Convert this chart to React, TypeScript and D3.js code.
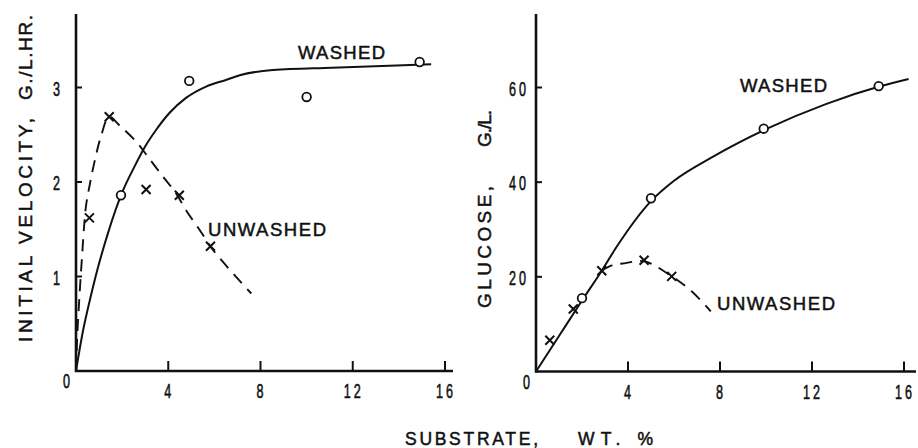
import React from "react";
import * as d3 from "d3";

// ---------- data ----------
const xTicks = [4, 8, 12, 16];
const velTicks = [1, 2, 3];
const gluTicks = [20, 40, 60];

// Left panel: initial velocity (G./L.HR.)
const velWashedX = [1.95, 4.91, 10, 14.9];
const velWashedY = [1.86, 3.07, 2.9, 3.27];
const velUnwashedX = [0.58, 1.44, 3.04, 4.48, 5.83];
const velUnwashedY = [1.62, 2.69, 1.92, 1.86, 1.32];
const velWashedCurveX = [0, 0.3, 0.61, 0.85, 1.4, 2.02, 2.53, 2.96, 3.47, 4.05, 4.77, 5.64, 6.5, 7.1, 8.54, 11.1, 15.4];
const velWashedCurveY = [0, 0.42, 0.76, 1.0, 1.47, 1.9, 2.16, 2.36, 2.55, 2.73, 2.89, 3.01, 3.08, 3.13, 3.185, 3.21, 3.245];
const velUnwashedCurveX = [0, 0.06, 0.14, 0.25, 0.43, 0.58, 0.79, 1.08, 1.44, 1.88, 2.6, 3.11, 3.76, 4.34, 4.77, 5.37, 5.94, 7.6];
const velUnwashedCurveY = [0, 0.4, 0.75, 1.17, 1.74, 1.95, 2.2, 2.48, 2.69, 2.6, 2.43, 2.27, 2.06, 1.88, 1.7, 1.49, 1.28, 0.82];

// Right panel: glucose (G./L.)
const gluWashedX = [2, 5, 9.9, 14.9];
const gluWashedY = [15.5, 36.6, 51.3, 60.3];
const gluUnwashedX = [0.6, 1.62, 2.86, 4.7, 5.9];
const gluUnwashedY = [6.6, 13.2, 21.3, 23.5, 20.1];
const gluWashedCurveX = [0, 1, 2, 2.86, 3.5, 5, 6, 7.7, 10, 12.6, 15, 16.2];
const gluWashedCurveY = [0, 7.5, 15, 21.3, 26.3, 36, 40.3, 45.4, 51.2, 56.5, 60.3, 61.8];
const gluUnwashedCurveX = [2.86, 3.3, 3.9, 4.7, 5.9, 6.8, 7.6];
const gluUnwashedCurveY = [21.3, 22.4, 22.9, 23.3, 20.1, 16.8, 12.7];

const FONT = "'Liberation Sans', Arial, sans-serif";
const INK = "#111";

type PanelProps = {
  x0: number;
  x1: number;
  y0: number;
  yTopTick: number;
  yMaxTick: number;
  axisTopY: number;
  axisRight: number;
  yTicks: number[];
  yLabelRight: number;
  washedX: number[];
  washedY: number[];
  unX: number[];
  unY: number[];
  wCurveX: number[];
  wCurveY: number[];
  uCurveX: number[];
  uCurveY: number[];
};

function pairs(xs: number[], ys: number[]): [number, number][] {
  return xs.map((x, i) => [x, ys[i]] as [number, number]);
}

function Panel(p: PanelProps) {
  const x = d3.scaleLinear().domain([0, 16]).range([p.x0, p.x1]);
  const y = d3.scaleLinear().domain([0, p.yMaxTick]).range([p.y0, p.yTopTick]);
  const wLine = d3
    .line<[number, number]>()
    .x((d) => x(d[0]))
    .y((d) => y(d[1]))
    .curve(d3.curveMonotoneX);
  const uLine = d3
    .line<[number, number]>()
    .x((d) => x(d[0]))
    .y((d) => y(d[1]))
    .curve(d3.curveCatmullRom.alpha(0.5));
  const wPath = wLine(pairs(p.wCurveX, p.wCurveY)) || "";
  const uPath = uLine(pairs(p.uCurveX, p.uCurveY)) || "";
  const digit = (label: string, cx: number, cy: number, anchor: string) => (
    <text
      key={label + cx + cy}
      transform={`translate(${cx},${cy}) scale(0.6,1)`}
      textAnchor={anchor}
      fontFamily={FONT}
      fontSize={21}
      letterSpacing={5}
      fill={INK}
      stroke={INK}
      strokeWidth={0.6}
    >
      {label}
    </text>
  );
  return (
    <g>
      {/* axes */}
      <line x1={x(0)} x2={x(0)} y1={y(0) + 1} y2={p.axisTopY} stroke={INK} strokeWidth={2.6} />
      <line x1={x(0) - 1} x2={p.axisRight} y1={y(0)} y2={y(0)} stroke={INK} strokeWidth={2.6} />
      {xTicks.map((t) => (
        <line key={"xt" + t} x1={x(t)} x2={x(t)} y1={y(0)} y2={y(0) - 10} stroke={INK} strokeWidth={2} />
      ))}
      {p.yTicks.map((t) => (
        <line key={"yt" + t} x1={x(0)} x2={x(0) + 6} y1={y(t)} y2={y(t)} stroke={INK} strokeWidth={2} />
      ))}
      {/* tick labels */}
      {xTicks.map((t) => digit(String(t), x(t) + 1, y(0) + 27, "middle"))}
      {digit("0", x(0) - 8, y(0) + 17, "middle")}
      {p.yTicks.map((t) => digit(String(t), p.yLabelRight, y(t) + 8, "end"))}
      {/* curves */}
      <path d={wPath} fill="none" stroke={INK} strokeWidth={2} />
      <path d={uPath} fill="none" stroke={INK} strokeWidth={1.9} strokeDasharray="12,8" />
      {/* markers */}
      {p.washedX.map((v, i) => (
        <circle key={"c" + i} cx={x(v)} cy={y(p.washedY[i])} r={4.3} fill="#fff" stroke={INK} strokeWidth={1.8} />
      ))}
      {p.unX.map((v, i) => {
        const cx = x(v);
        const cy = y(p.unY[i]);
        const s = 4.5;
        return (
          <path
            key={"x" + i}
            d={`M${cx - s},${cy - s}L${cx + s},${cy + s}M${cx - s},${cy + s}L${cx + s},${cy - s}`}
            stroke={INK}
            strokeWidth={2}
          />
        );
      })}
    </g>
  );
}

export default function App() {
  return (
    <svg
      width={918}
      height={448}
      style={{ position: "absolute", left: 0, top: 0, background: "#fff" }}
    >
      <rect width={918} height={448} fill="#fff" />
      <Panel
        x0={76}
        x1={445}
        y0={371}
        yTopTick={87.5}
        yMaxTick={3}
        axisTopY={14}
        axisRight={453}
        yTicks={velTicks}
        yLabelRight={63}
        washedX={velWashedX}
        washedY={velWashedY}
        unX={velUnwashedX}
        unY={velUnwashedY}
        wCurveX={velWashedCurveX}
        wCurveY={velWashedCurveY}
        uCurveX={velUnwashedCurveX}
        uCurveY={velUnwashedCurveY}
      />
      <Panel
        x0={536}
        x1={904}
        y0={371.5}
        yTopTick={87.5}
        yMaxTick={60}
        axisTopY={14}
        axisRight={916}
        yTicks={gluTicks}
        yLabelRight={529}
        washedX={gluWashedX}
        washedY={gluWashedY}
        unX={gluUnwashedX}
        unY={gluUnwashedY}
        wCurveX={gluWashedCurveX}
        wCurveY={gluWashedCurveY}
        uCurveX={gluUnwashedCurveX}
        uCurveY={gluUnwashedCurveY}
      />
      {/* series labels */}
      <g fontFamily={FONT} fontSize={18.5} fill={INK} stroke={INK} strokeWidth={0.5}>
        <text x={298} y={58.5} textLength={87} lengthAdjust="spacing">WASHED</text>
        <text x={208} y={235.5} textLength={118} lengthAdjust="spacing">UNWASHED</text>
        <text x={740} y={91.5} textLength={87} lengthAdjust="spacing">WASHED</text>
        <text x={717} y={309.5} textLength={118} lengthAdjust="spacing">UNWASHED</text>
      </g>
      {/* axis titles */}
      <g fontFamily={FONT} fontSize={19} fill={INK} stroke={INK} strokeWidth={0.5}>
        <text transform="translate(32,342) rotate(-90)" textLength={224} lengthAdjust="spacing">
          INITIAL VELOCITY,
        </text>
        <text transform="translate(32,100) rotate(-90)" textLength={85} lengthAdjust="spacing">
          G./L.HR.
        </text>
        <text transform="translate(491,308) rotate(-90)" textLength={122} lengthAdjust="spacing">
          GLUCOSE,
        </text>
        <text transform="translate(491,147) rotate(-90)" textLength={37} lengthAdjust="spacing">
          G./L.
        </text>
        <text x={405} y={445} textLength={133} lengthAdjust="spacing" fontSize={17.5}>
          SUBSTRATE,
        </text>
        <text x={578} y={445} textLength={75} lengthAdjust="spacing" fontSize={17.5}>
          WT. %
        </text>
      </g>
    </svg>
  );
}
